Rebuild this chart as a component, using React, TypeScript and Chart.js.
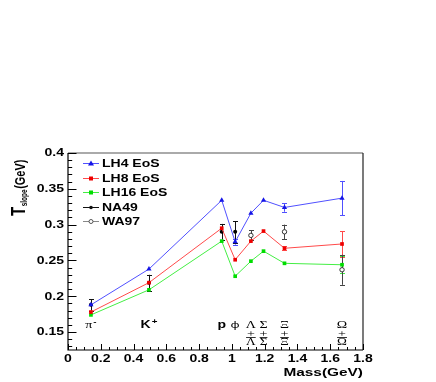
import React, { useEffect, useRef } from 'react';
import { Chart, registerables } from 'chart.js';
Chart.register(...registerables);

// ---- data ----
const masses = [0.14, 0.494, 0.938, 1.02, 1.116, 1.193, 1.321, 1.672];
const particleNames = ['π', 'K', 'p', 'φ', 'Λ', 'Σ', 'Ξ', 'Ω'];
const particleCharges = ['-', '+', '', '', '', '', '', ''];
const particleHasAnti = [false, false, false, false, true, true, true, true];

const lh4 = [0.188, 0.238, 0.334, 0.276, 0.316, 0.334, 0.324, 0.337];
const lh4Err = [0, 0, 0, 0.004, 0, 0, 0.006, 0.024];
const lh8 = [0.178, 0.219, 0.295, 0.251, 0.277, 0.291, 0.267, 0.273];
const lh8Err = [0, 0, 0, 0, 0, 0, 0.003, 0.018];
const lh16 = [0.174, 0.209, 0.277, 0.228, 0.249, 0.263, 0.246, 0.244];
const lh16Err = [0, 0, 0, 0, 0, 0, 0, 0.012];

const na49Mass = [0.14, 0.494, 0.938, 1.02];
const na49 = [0.188, 0.219, 0.29, 0.29];
const na49Err = [0.008, 0.011, 0.011, 0.015];
const wa97Mass = [1.116, 1.321, 1.672];
const wa97 = [0.285, 0.29, 0.237];
const wa97Err = [0.007, 0.01, 0.021];

const legendLabels = ['LH4 EoS', 'LH8 EoS', 'LH16 EoS', 'NA49', 'WA97'];
const xTickValues = [0, 0.2, 0.4, 0.6, 0.8, 1, 1.2, 1.4, 1.6, 1.8];
const xTickLabels = ['0', '0.2', '0.4', '0.6', '0.8', '1', '1.2', '1.4', '1.6', '1.8'];
const yTickValues = [0.15, 0.2, 0.25, 0.3, 0.35, 0.4];
const yTickLabels = ['0.15', '0.2', '0.25', '0.3', '0.35', '0.4'];
const xTitle = 'Mass(GeV)';
const yTitleMain = 'T';
const yTitleSub = 'slope';
const yTitleUnit = '(GeV)';

// ---- styles ----
const SX = 1.4;
const SANS = '"Liberation Sans", Arial, sans-serif';
const SERIF = '"Liberation Serif", "Times New Roman", serif';
const blueLine = '#5050ff';
const blueMark = '#1515e6';
const redLine = '#ff4a4a';
const redMark = '#ee0000';
const greenLine = '#44ee44';
const greenMark = '#00dd00';

const pts = (xs: number[], ys: number[]) => xs.map((x, i) => ({ x, y: ys[i] }));

function sText(ctx: CanvasRenderingContext2D, text: string, x: number, y: number, font: string, align: CanvasTextAlign = 'left', base: CanvasTextBaseline = 'alphabetic') {
  ctx.save();
  ctx.translate(x, y);
  ctx.scale(SX, 1);
  ctx.font = font;
  ctx.textAlign = align;
  ctx.textBaseline = base;
  ctx.fillText(text, 0, 0);
  ctx.restore();
}

function drawMarker(ctx: CanvasRenderingContext2D, style: string, x: number, y: number, fill: string, stroke: string) {
  ctx.save();
  ctx.fillStyle = fill;
  ctx.strokeStyle = stroke;
  ctx.lineWidth = 1;
  ctx.beginPath();
  if (style === 'triangle') {
    ctx.moveTo(x, y - 3);
    ctx.lineTo(x + 3, y + 2);
    ctx.lineTo(x - 3, y + 2);
    ctx.closePath();
    ctx.fill();
  } else if (style === 'rect') {
    ctx.rect(x - 2, y - 2, 4, 4);
    ctx.fill();
  } else if (style === 'dot') {
    ctx.arc(x, y, 1.8, 0, Math.PI * 2);
    ctx.fill();
  } else {
    ctx.arc(x, y, 2, 0, Math.PI * 2);
    ctx.fillStyle = '#fff';
    ctx.fill();
    ctx.stroke();
  }
  ctx.restore();
}

const errorSets = [
  { xs: masses, ys: lh4, es: lh4Err, color: blueLine },
  { xs: masses, ys: lh8, es: lh8Err, color: redLine },
  { xs: masses, ys: lh16, es: lh16Err, color: greenLine },
  { xs: na49Mass, ys: na49, es: na49Err, color: '#111' },
  { xs: wa97Mass, ys: wa97, es: wa97Err, color: '#444' },
];

const rootPlugin = {
  id: 'rootStyle',
  beforeDatasetsDraw(chart: any) {
    const ctx: CanvasRenderingContext2D = chart.ctx;
    const xs = chart.scales.x;
    const ys = chart.scales.y;
    ctx.save();
    ctx.lineWidth = 1;
    errorSets.forEach((s) => {
      ctx.strokeStyle = s.color;
      s.xs.forEach((m, i) => {
        const e = s.es[i];
        if (!e) return;
        const px = Math.round(xs.getPixelForValue(m)) + 0.5;
        const y1 = ys.getPixelForValue(s.ys[i] + e);
        const y2 = ys.getPixelForValue(s.ys[i] - e);
        ctx.beginPath();
        ctx.moveTo(px, y1);
        ctx.lineTo(px, y2);
        ctx.moveTo(px - 2.5, Math.round(y1) + 0.5);
        ctx.lineTo(px + 2.5, Math.round(y1) + 0.5);
        ctx.moveTo(px - 2.5, Math.round(y2) + 0.5);
        ctx.lineTo(px + 2.5, Math.round(y2) + 0.5);
        ctx.stroke();
      });
    });
    ctx.restore();
  },
  afterDraw(chart: any) {
    const ctx: CanvasRenderingContext2D = chart.ctx;
    const { left, right, top, bottom } = chart.chartArea;
    const xs = chart.scales.x;
    const ys = chart.scales.y;
    ctx.save();
    // frame
    ctx.strokeStyle = '#aaaaaa';
    ctx.lineWidth = 2;
    ctx.beginPath();
    ctx.moveTo(left, top);
    ctx.lineTo(right, top);
    ctx.stroke();
    ctx.strokeStyle = '#222';
    ctx.lineWidth = 1.2;
    ctx.beginPath();
    ctx.moveTo(right, top);
    ctx.lineTo(right, bottom);
    ctx.stroke();
    ctx.strokeStyle = '#000';
    ctx.lineWidth = 1.2;
    ctx.beginPath();
    ctx.moveTo(left, top);
    ctx.lineTo(left, bottom);
    ctx.lineTo(right, bottom);
    ctx.stroke();

    // ticks
    ctx.lineWidth = 1;
    ctx.strokeStyle = '#000';
    ctx.beginPath();
    for (let i = 0; i <= 36; i++) {
      const px = Math.round(xs.getPixelForValue(i * 0.05)) + 0.5;
      const len = i % 4 === 0 ? 6 : 3;
      ctx.moveTo(px, bottom);
      ctx.lineTo(px, bottom - len);
    }
    for (let i = 13; i <= 40; i++) {
      const py = Math.round(ys.getPixelForValue(i * 0.01)) + 0.5;
      const len = i % 5 === 0 ? 8.5 : 4.2;
      ctx.moveTo(left, py);
      ctx.lineTo(left + len, py);
    }
    ctx.stroke();

    // tick labels
    ctx.fillStyle = '#000';
    xTickValues.forEach((v, i) => {
      sText(ctx, xTickLabels[i], xs.getPixelForValue(v), bottom + 12, `bold 10px ${SANS}`, 'center');
    });
    yTickValues.forEach((v, i) => {
      sText(ctx, yTickLabels[i], left - 4, ys.getPixelForValue(v) + 0.5, `bold 10px ${SANS}`, 'right', 'middle');
    });

    // x title
    sText(ctx, xTitle, right, bottom + 26, `bold 11px ${SANS}`, 'right');

    // y title (rotated)
    ctx.save();
    ctx.translate(25, 216);
    ctx.scale(SX, 1);
    ctx.rotate(-Math.PI / 2);
    ctx.textAlign = 'left';
    ctx.textBaseline = 'alphabetic';
    ctx.font = `bold 15px ${SANS}`;
    ctx.fillText(yTitleMain, 0, 0);
    let off = ctx.measureText(yTitleMain).width + 0.5;
    ctx.font = `bold 6.5px ${SANS}`;
    ctx.fillText(yTitleSub, off, 1.5);
    off += ctx.measureText(yTitleSub).width + 0.5;
    ctx.font = `bold 11px ${SANS}`;
    ctx.fillText(yTitleUnit, off, 0);
    ctx.restore();

    // particle labels
    const base = bottom - 22;
    masses.forEach((m, i) => {
      const px = xs.getPixelForValue(m);
      const name = particleNames[i];
      const ch = particleCharges[i];
      const sans = name === 'K' || name === 'p';
      const font = sans ? `bold 10px ${SANS}` : name === 'φ' ? `9px "Noto Sans", sans-serif` : `10px ${SERIF}`;
      ctx.font = font;
      const w = ctx.measureText(name).width * SX;
      ctx.font = `bold 7px ${SANS}`;
      const cw = ch ? ctx.measureText(ch).width * SX + 1 : 0;
      const start = px - (w + cw) / 2;
      sText(ctx, name, start, base, font, 'left');
      if (ch) sText(ctx, ch, start + w + 1, base - 4, `bold 7px ${SANS}`, 'left');
      if (particleHasAnti[i]) {
        sText(ctx, '+', px, base + 8.5, `10px ${SERIF}`, 'center');
        sText(ctx, name, px, base + 16.5, `9.5px ${SERIF}`, 'center');
        ctx.font = `9.5px ${SERIF}`;
        const aw = ctx.measureText(name).width * SX;
        ctx.beginPath();
        ctx.lineWidth = 0.8;
        ctx.strokeStyle = '#000';
        ctx.moveTo(px - aw / 2, base + 9.5);
        ctx.lineTo(px + aw / 2, base + 9.5);
        ctx.stroke();
      }
    });

    // legend
    const legY = [163, 178, 192, 207, 221];
    const legStyles = [
      { line: blueLine, mark: 'triangle', fill: blueMark },
      { line: redLine, mark: 'rect', fill: redMark },
      { line: greenLine, mark: 'rect', fill: greenMark },
      { line: '#111', mark: 'dot', fill: '#111' },
      { line: '#888', mark: 'open', fill: '#fff' },
    ];
    legendLabels.forEach((lab, i) => {
      const y = legY[i];
      const st = legStyles[i];
      ctx.strokeStyle = st.line;
      ctx.lineWidth = 1;
      ctx.beginPath();
      ctx.moveTo(83, y + 0.5);
      ctx.lineTo(99, y + 0.5);
      ctx.stroke();
      drawMarker(ctx, st.mark, 91, y + 0.5, st.fill, '#555');
      ctx.fillStyle = '#000';
      sText(ctx, lab, 102, y + 4, `bold 10px ${SANS}`, 'left');
    });
    ctx.restore();
  },
};

export default function App() {
  const ref = useRef<HTMLCanvasElement>(null);
  useEffect(() => {
    if (!ref.current) return;
    const chart = new Chart(ref.current, {
      type: 'line',
      data: {
        datasets: [
          {
            label: legendLabels[0], data: pts(masses, lh4), borderColor: blueLine, borderWidth: 1,
            pointStyle: 'triangle', pointRadius: 3, pointBackgroundColor: blueMark, pointBorderColor: blueMark, pointBorderWidth: 0,
          },
          {
            label: legendLabels[1], data: pts(masses, lh8), borderColor: redLine, borderWidth: 1,
            pointStyle: 'rect', pointRadius: 2.6, pointBackgroundColor: redMark, pointBorderColor: redMark, pointBorderWidth: 0,
          },
          {
            label: legendLabels[2], data: pts(masses, lh16), borderColor: greenLine, borderWidth: 1,
            pointStyle: 'rect', pointRadius: 2.6, pointBackgroundColor: greenMark, pointBorderColor: greenMark, pointBorderWidth: 0,
          },
          {
            label: legendLabels[3], data: pts(na49Mass, na49), showLine: false,
            pointStyle: 'circle', pointRadius: 2, pointBackgroundColor: '#000', pointBorderColor: '#000', pointBorderWidth: 0,
          },
          {
            label: legendLabels[4], data: pts(wa97Mass, wa97), showLine: false,
            pointStyle: 'circle', pointRadius: 2.2, pointBackgroundColor: '#fff', pointBorderColor: '#333', pointBorderWidth: 1,
          },
        ],
      } as any,
      options: {
        animation: false,
        responsive: false,
        devicePixelRatio: 1,
        layout: { padding: { left: 68, right: 73, top: 153, bottom: 32 } },
        scales: {
          x: { type: 'linear', min: 0, max: 1.8, display: false },
          y: { type: 'linear', min: 0.125, max: 0.4, display: false },
        },
        plugins: { legend: { display: false }, tooltip: { enabled: false } },
        elements: { line: { tension: 0 } },
      } as any,
      plugins: [rootPlugin],
    });
    return () => chart.destroy();
  }, []);
  return (
    <div style={{ position: 'absolute', left: 0, top: 0, width: 436, height: 382, background: '#fff' }}>
      <canvas ref={ref} width={436} height={382} style={{ width: 436, height: 382, display: 'block' }} />
    </div>
  );
}
